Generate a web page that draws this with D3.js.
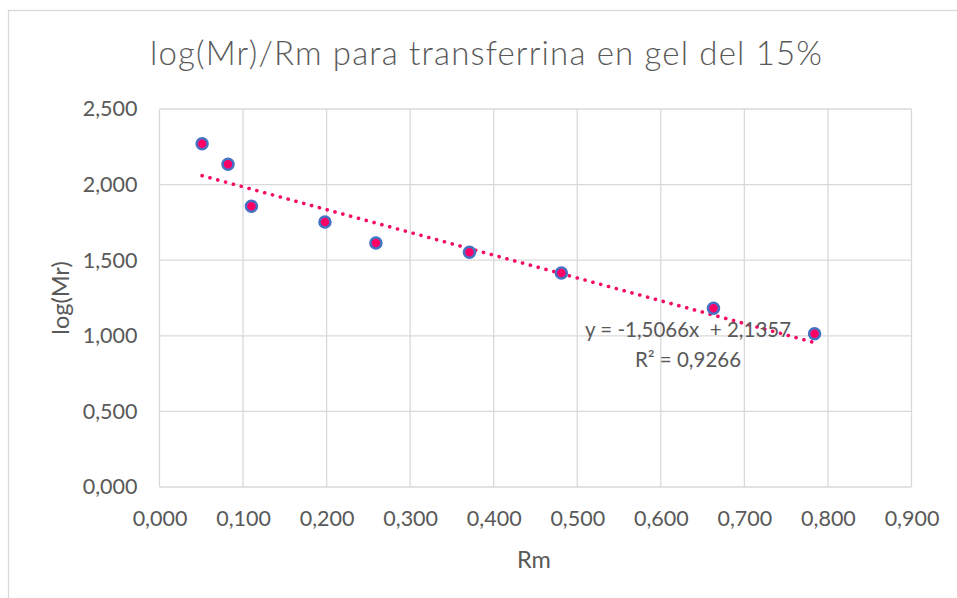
<!DOCTYPE html>
<html>
<head>
<meta charset="utf-8">
<script src="https://cdn.jsdelivr.net/npm/d3@7"></script>
<style>
  body { margin: 0; background: #fff; }
  text { font-family: Lato, 'Open Sans', sans-serif; fill: #595959; white-space: pre; }
</style>
</head>
<body>
<div id="chart"></div>
<script>
// Rm values (x) and log(Mr) values (y)
var rmValues = [0.051, 0.082, 0.110, 0.198, 0.259, 0.371, 0.481, 0.663, 0.784]
var logMrValues = [2.270, 2.134, 1.857, 1.753, 1.614, 1.553, 1.415, 1.182, 1.013]

// Tick values for the axes
var xTicks = [0, 0.1, 0.2, 0.3, 0.4, 0.5, 0.6, 0.7, 0.8, 0.9]
var yTicks = [0, 0.5, 1.0, 1.5, 2.0, 2.5]

// Linear trend line as shown in the label
var trendSlope = -1.5066
var trendIntercept = 2.1357
var trendLabels = ['y = -1,5066x  + 2,1357', 'R² = 0,9266']

var width = 957
var height = 598
var margin = { top: 109, right: 45.5, bottom: 111, left: 159.5 }

var svg = d3.select('#chart').append('svg')
  .attr('width', width)
  .attr('height', height)

// Chart area border (cut off on right and bottom)
svg.append('rect')
  .attr('x', 8.5)
  .attr('y', 10.5)
  .attr('width', 1000)
  .attr('height', 1000)
  .attr('fill', '#fff')
  .attr('stroke', '#d9d9d9')
  .attr('stroke-width', 1.3)

var xScale = d3.scaleLinear()
  .domain([0, 0.9])
  .range([margin.left, width - margin.right])

var yScale = d3.scaleLinear()
  .domain([0, 2.5])
  .range([height - margin.bottom, margin.top])

var fmt = function (d) { return d3.format('.3f')(d).replace('.', ',') }

// Gridlines
svg.append('g')
  .selectAll('line')
  .data(xTicks)
  .enter().append('line')
  .attr('x1', function (d) { return xScale(d) })
  .attr('x2', function (d) { return xScale(d) })
  .attr('y1', yScale(0))
  .attr('y2', yScale(2.5))
  .attr('stroke', '#d9d9d9')
  .attr('stroke-width', 1.3)

svg.append('g')
  .selectAll('line')
  .data(yTicks)
  .enter().append('line')
  .attr('x1', xScale(0))
  .attr('x2', xScale(0.9))
  .attr('y1', function (d) { return yScale(d) })
  .attr('y2', function (d) { return yScale(d) })
  .attr('stroke', '#d9d9d9')
  .attr('stroke-width', 1.3)

// Axes (labels only)
var xAxis = svg.append('g')
  .attr('transform', 'translate(0,' + yScale(0) + ')')
  .call(d3.axisBottom(xScale).tickValues(xTicks).tickFormat(fmt).tickSize(0).tickPadding(24))
xAxis.select('.domain').remove()
xAxis.selectAll('text').style('font-size', '21.5px').attr('fill', '#595959')

var yAxis = svg.append('g')
  .attr('transform', 'translate(' + (xScale(0) - 22) + ',0)')
  .call(d3.axisLeft(yScale).tickValues(yTicks).tickFormat(fmt).tickSize(0).tickPadding(0))
yAxis.select('.domain').remove()
yAxis.selectAll('text').style('font-size', '21.5px').attr('fill', '#595959')

// Trend line
var xMin = d3.min(rmValues)
var xMax = d3.max(rmValues)
svg.append('line')
  .attr('x1', xScale(xMin))
  .attr('y1', yScale(trendSlope * xMin + trendIntercept))
  .attr('x2', xScale(xMax))
  .attr('y2', yScale(trendSlope * xMax + trendIntercept))
  .attr('stroke', '#f50a64')
  .attr('stroke-width', 3.6)
  .attr('stroke-linecap', 'round')
  .attr('stroke-dasharray', '0.1 8')

// Data points
svg.append('g')
  .selectAll('circle')
  .data(rmValues)
  .enter().append('circle')
  .attr('cx', function (d) { return xScale(d) })
  .attr('cy', function (d, i) { return yScale(logMrValues[i]) })
  .attr('r', 5.5)
  .attr('fill', '#ff0066')
  .attr('stroke', '#4472c4')
  .attr('stroke-width', 2.5)

// Trend label
svg.append('g')
  .selectAll('text')
  .data(trendLabels)
  .enter().append('text')
  .attr('x', 688)
  .attr('y', function (d, i) { return 337 + i * 30 })
  .attr('text-anchor', 'middle')
  .style('font-size', '20.5px')
  .text(function (d) { return d })

// Title
svg.append('text')
  .attr('x', 486)
  .attr('y', 65)
  .attr('text-anchor', 'middle')
  .attr('textLength', 672)
  .attr('lengthAdjust', 'spacing')
  .style('font-size', '33px')
  .style('font-weight', 300)
  .text('log(Mr)/Rm para transferrina en gel del 15%')

// Axis titles
svg.append('text')
  .attr('x', 534)
  .attr('y', 568)
  .attr('text-anchor', 'middle')
  .style('font-size', '23.5px')
  .text('Rm')

svg.append('text')
  .attr('transform', 'translate(69,' + yScale(1.25) + ') rotate(-90)')
  .attr('text-anchor', 'middle')
  .style('font-size', '23.5px')
  .text('log(Mr)')
</script>
</body>
</html>
